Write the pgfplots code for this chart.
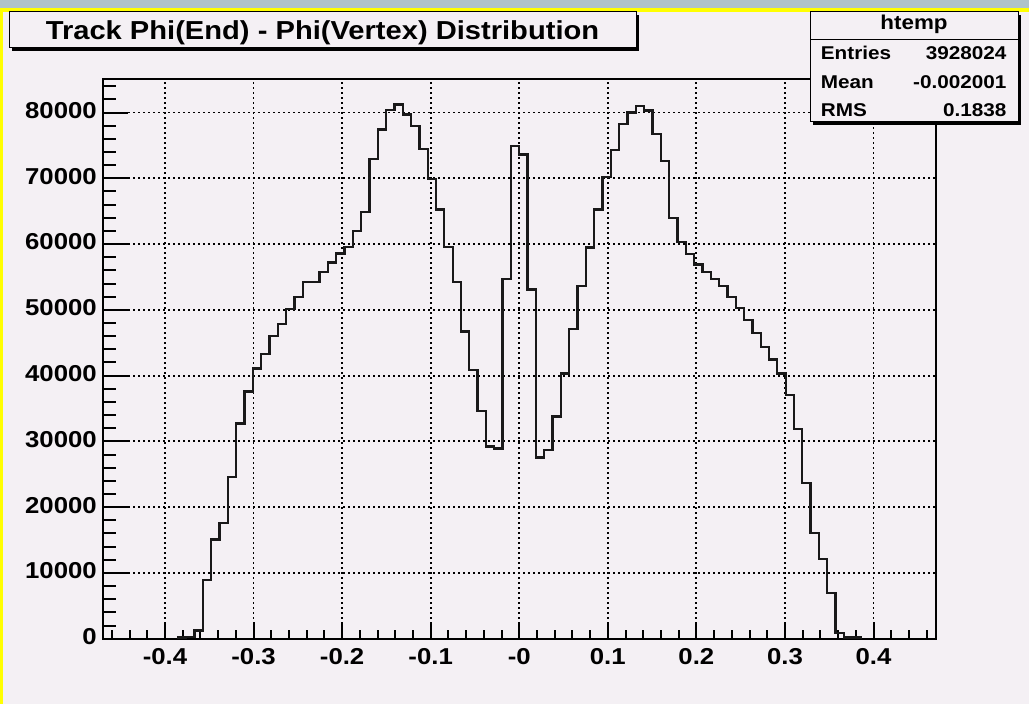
\documentclass[border=0pt]{standalone}
\usepackage{fontspec}
\setmainfont{Liberation Sans}[FakeStretch=1.12]
\usepackage{pgfplots}
\pgfplotsset{compat=1.18}
\definecolor{padbg}{RGB}{244,240,244}
\definecolor{ryellow}{RGB}{255,255,0}
\definecolor{topstrip}{RGB}{175,195,200}
\begin{document}
\begin{tikzpicture}[x=1pt,y=1pt]
\useasboundingbox (0,0) rectangle (1029,704);
\fill[padbg] (0,0) rectangle (1029,704);
\fill[topstrip] (0,696) rectangle (1029,704);
\fill[ryellow] (0,692) rectangle (1029,696);
\fill[ryellow] (0,0) rectangle (3,696);
\begin{axis}[
  at={(103pt,65.3pt)}, anchor=south west,
  scale only axis, width=832.5pt, height=559.7pt,
  xmin=-0.47, xmax=0.47, ymin=0, ymax=85100,
  scaled y ticks=false, scaled x ticks=false,
  axis background/.style={fill=padbg},
  axis line style={line width=2pt, black},
  tick pos=left, tick align=inside,
  xtick={-0.4,-0.3,-0.2,-0.1,0,0.1,0.2,0.3,0.4},
  xticklabels={-0.4,-0.3,-0.2,-0.1,-0,0.1,0.2,0.3,0.4},
  minor xtick={-0.46,-0.44,-0.42,-0.38,-0.36,-0.34,-0.32,-0.28,-0.26,-0.24,-0.22,-0.18,-0.16,-0.14,-0.12,-0.08,-0.06,-0.04,-0.02,0.02,0.04,0.06,0.08,0.12,0.14,0.16,0.18,0.22,0.24,0.26,0.28,0.32,0.34,0.36,0.38,0.42,0.44,0.46},
  ytick={0,10000,20000,30000,40000,50000,60000,70000,80000},
  yticklabels={0,10000,20000,30000,40000,50000,60000,70000,80000},
  minor ytick={2000,4000,6000,8000,12000,14000,16000,18000,22000,24000,26000,28000,32000,34000,36000,38000,42000,44000,46000,48000,52000,54000,56000,58000,62000,64000,66000,68000,72000,74000,76000,78000,82000,84000},
  major x tick style={line width=2pt, black, /pgfplots/major tick length=17pt},
  minor x tick style={line width=2pt, black, /pgfplots/minor tick length=9pt},
  major y tick style={line width=2pt, black, /pgfplots/major tick length=25pt},
  minor y tick style={line width=2pt, black, /pgfplots/minor tick length=13pt},
  xmajorgrids, ymajorgrids,
  major grid style={black, line width=1.8pt, dash pattern=on 1.8pt off 3.2pt},
  ticklabel style={font=\fontsize{23}{23}\selectfont\bfseries},
  xticklabel style={inner sep=0pt, yshift=-9.5pt, anchor=north},
  yticklabel style={inner sep=0pt, xshift=-6pt, yshift=2pt, anchor=east},
]
\addplot[const plot, mark=none, line width=2.3pt, color=black!90] coordinates {
(-0.3854,0) (-0.3854,200) (-0.3760,250) (-0.3666,1250) (-0.3572,8900) (-0.3478,15100)
(-0.3384,17600) (-0.3290,24600) (-0.3196,32700) (-0.3102,37600) (-0.3008,41100)
(-0.2914,43300) (-0.2820,46000) (-0.2726,47850) (-0.2632,50100) (-0.2538,52000)
(-0.2444,54200) (-0.2350,54200) (-0.2256,55800) (-0.2162,57200) (-0.2068,58550)
(-0.1974,59600) (-0.1880,62000) (-0.1786,64900) (-0.1692,72900) (-0.1598,77400)
(-0.1504,80400) (-0.1410,81200) (-0.1316,79700) (-0.1222,77900) (-0.1128,74500)
(-0.1034,69900) (-0.0940,65250) (-0.0846,59600) (-0.0752,54200) (-0.0658,46700)
(-0.0564,40900) (-0.0470,34600) (-0.0376,29200) (-0.0282,28900) (-0.0188,54700)
(-0.0094,74900) (0.0000,73600) (0.0094,53100) (0.0188,27550) (0.0282,28700)
(0.0376,33800) (0.0470,40300) (0.0564,47100) (0.0658,53600) (0.0752,59500)
(0.0846,65250) (0.0940,70200) (0.1034,74300) (0.1128,78300) (0.1222,80000)
(0.1316,81000) (0.1410,80300) (0.1504,76700) (0.1598,72600) (0.1692,64000)
(0.1786,60300) (0.1880,58500) (0.1974,56900) (0.2068,55800) (0.2162,54700)
(0.2256,53600) (0.2350,52000) (0.2444,50300) (0.2538,48500) (0.2632,46500)
(0.2726,44350) (0.2820,42450) (0.2914,40300) (0.3008,37000) (0.3102,31900)
(0.3196,23700) (0.3290,16100) (0.3384,12100) (0.3478,6900) (0.3572,900)
(0.3666,200) (0.3760,200) (0.3854,0)
};
\end{axis}
% title box
\fill[black] (12,653) rectangle (639,689);
\filldraw[fill=padbg, draw=black, line width=1pt] (9,656) rectangle (636,692);
\node[anchor=base, inner sep=0pt, font=\fontsize{26}{26}\selectfont\bfseries] at (322.5,664.7) {Track Phi(End) - Phi(Vertex) Distribution};
% stats box
\fill[black] (813,579) rectangle (1021,689);
\filldraw[fill=padbg, draw=black, line width=1pt] (810,582) rectangle (1018,692);
\draw[black, line width=1.5pt] (810,664.7) -- (1018,664.7);
\node[anchor=base, inner sep=0pt, font=\fontsize{20}{20}\selectfont\bfseries] at (914,674) {htemp};
\begin{scope}[every node/.style={inner sep=0pt, font=\fontsize{18.5}{18.5}\selectfont\bfseries}]
\node[anchor=base west] at (820.7,644.7) {Entries};
\node[anchor=base east] at (1006.7,644.7) {3928024};
\node[anchor=base west] at (820.7,615.7) {Mean};
\node[anchor=base east] at (1006.7,615.7) {-0.002001};
\node[anchor=base west] at (820.7,587.3) {RMS};
\node[anchor=base east] at (1006.7,587.3) {0.1838};
\end{scope}
\end{tikzpicture}
\end{document}
